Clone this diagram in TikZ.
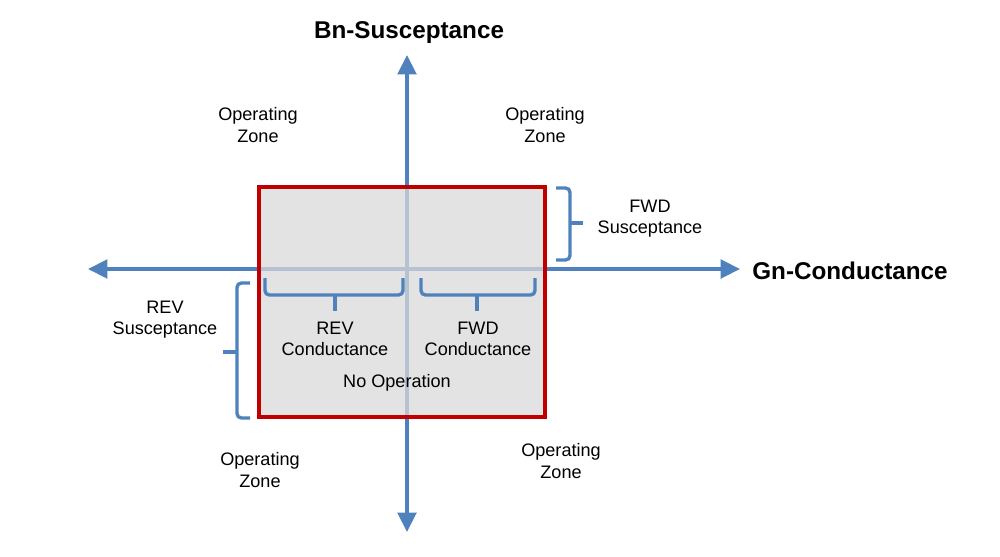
\documentclass[tikz,border=0pt]{standalone}
\usepackage{fontspec}
\setmainfont{Liberation Sans}
\usepackage{xcolor}
\usetikzlibrary{arrows.meta,positioning}
\definecolor{axBlue}{HTML}{4F81BD}
\definecolor{boxRed}{HTML}{C00000}
\definecolor{boxGray}{HTML}{D9D9D9}

\begin{document}
\begin{tikzpicture}[
  x=0.02cm, y=-0.02cm,
  every node/.style={font=\fontsize{10.3}{12}\selectfont, align=center, inner sep=0pt},
  axis/.style={line width=2.2pt, axBlue, -{Triangle[length=11pt, width=10.5pt]}},
  axlabel/.style={font=\fontsize{13.8}{16}\selectfont\bfseries},
  zone/.style={fill=boxGray, fill opacity=0.75, draw=boxRed, line width=2.8pt},
  bracket/.style={axBlue, line width=1.9pt, rounded corners=2.5pt},
  stub/.style={axBlue, line width=2.3pt},
]
\useasboundingbox (0,0) rectangle (1000,557);

% Axes
\coordinate (origin) at (407,269);
\coordinate (west) at (88,269);
\coordinate (east) at (740,269);
\coordinate (north) at (407,55);
\coordinate (south) at (407,532);
\foreach \tip in {east,west,north,south}
  \draw[axis] (origin) -- (\tip);

% No operation box
\draw[zone] (259,187) rectangle (545,417);

% Axis labels
\node[axlabel] (bn) at (409,33) {Bn-Susceptance};
\node[axlabel, anchor=west] (gn) at (752,271) {Gn-Conductance};

% Operating zones
\node (op-nw) at (258,125) {Operating\\Zone};
\node (op-ne) at (545,125) {Operating\\Zone};
\node (op-sw) at (260,470) {Operating\\Zone};
\node (op-se) at (561,461) {Operating\\Zone};

% Braces
\draw[bracket] (556,188) -| (570,260) -- (556,260);
\draw[stub] (570,223) -- (583,223);
\draw[bracket] (250,283) -| (237,418) -- (250,418);
\draw[stub] (237,352) -- (223,352);
\draw[bracket] (265,278) |- (403,295) -- (403,278);
\draw[stub] (335,295) -- (335,311);
\draw[bracket] (421,278) |- (535,295) -- (535,278);
\draw[stub] (477,295) -- (477,311);

% Brace labels
\node (fwd-sus) at (650,219) {FWD\\Susceptance};
\node (rev-sus) at (165,320) {REV\\Susceptance};
\node (rev-con) at (335,339) {REV\\Conductance};
\node (fwd-con) at (478,339) {FWD\\Conductance};
\node (no-op) at (397,383) {No Operation};
\end{tikzpicture}
\end{document}
